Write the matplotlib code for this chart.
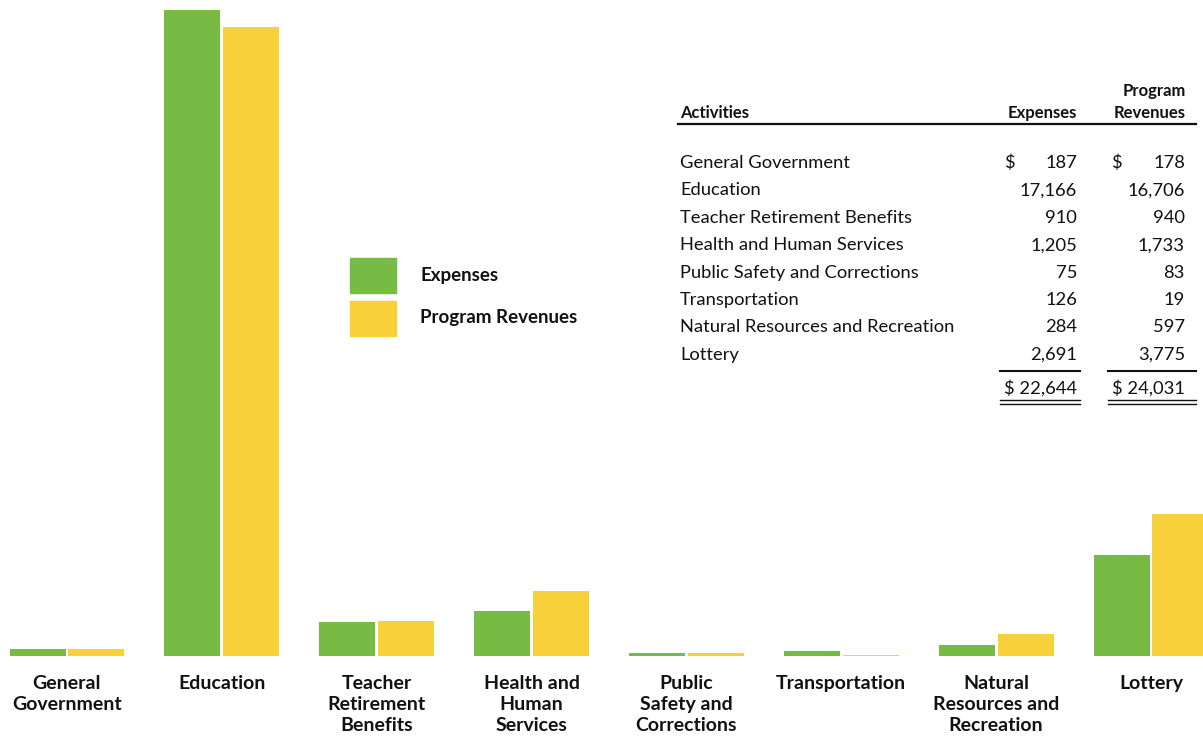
import matplotlib
matplotlib.use('Agg')
import matplotlib.pyplot as plt
from matplotlib.transforms import blended_transform_factory

# Data (millions of dollars)
activities = ['General Government', 'Education', 'Teacher Retirement Benefits',
              'Health and Human Services', 'Public Safety and Corrections',
              'Transportation', 'Natural Resources and Recreation', 'Lottery']
bar_labels = ['General\nGovernment', 'Education', 'Teacher\nRetirement\nBenefits',
              'Health and\nHuman\nServices', 'Public\nSafety and\nCorrections',
              'Transportation', 'Natural\nResources and\nRecreation', 'Lottery']
expenses = [187, 17166, 910, 1205, 75, 126, 284, 2691]
revenues = [178, 16706, 940, 1733, 83, 19, 597, 3775]

green = '#78bb44'
yellow = '#f8d13a'
bold_font = ['Lato', 'DejaVu Sans']
reg_font = ['Lato', 'DejaVu Sans']
ink = '#111111'

W, H = 1203, 736
fig = plt.figure(figsize=(W / 100, H / 100), dpi=100)
ax = fig.add_axes([0, 0, 1, 1])
ax.axis('off')


def fx(px):
    return px / W


def fy(py):
    return 1 - py / H


# bars
w = 0.362
idx = list(range(len(activities)))
ax.bar([i - w / 2 - 0.009 for i in idx], expenses, width=w, color=green)
ax.bar([i + w / 2 + 0.009 for i in idx], revenues, width=w, color=yellow)
scale = 646 / 17166
ax.set_xlim(-67 / 154.86, 7 + 52 / 154.86)
ax.set_ylim(-80 / scale, 656 / scale)

# category labels under bars
trans = blended_transform_factory(ax.transData, fig.transFigure)
for i, lab in enumerate(bar_labels):
    ax.text(i, fy(675), lab, transform=trans, ha='center', va='top',
            fontsize=14, fontweight='bold', family=bold_font, linespacing=1.3,
            color=ink)

# legend
fig.patches.append(plt.Rectangle((fx(350), fy(293)), fx(46), 35 / H, color=green,
                                 transform=fig.transFigure))
fig.patches.append(plt.Rectangle((fx(350), fy(336)), fx(46), 35 / H, color=yellow,
                                 transform=fig.transFigure))
fig.text(fx(420), fy(275), 'Expenses', ha='left', va='center', fontsize=13.5,
         fontweight='bold', family=bold_font, color=ink)
fig.text(fx(420), fy(318), 'Program Revenues', ha='left', va='center', fontsize=13.5,
         fontweight='bold', family=bold_font, color=ink)

# table
fig.text(fx(680), fy(113), 'Activities', ha='left', va='center', fontsize=12,
         fontweight='bold', family=bold_font, color=ink)
fig.text(fx(1077), fy(113), 'Expenses', ha='right', va='center', fontsize=12,
         fontweight='bold', family=bold_font, color=ink)
fig.text(fx(1186), fy(102), 'Program\nRevenues', ha='right', va='center', fontsize=12,
         fontweight='bold', family=bold_font, color=ink, multialignment='right',
         linespacing=1.45)
fig.add_artist(plt.Line2D([fx(678), fx(1196)], [fy(123.5), fy(123.5)], lw=1.6,
                          color=ink, transform=fig.transFigure))

row_y = [163 + 27.4 * k for k in range(len(activities))]
for k, name in enumerate(activities):
    y = fy(row_y[k])
    fig.text(fx(680), y, name, ha='left', va='center', fontsize=13.2,
             family=reg_font, color=ink)
    fig.text(fx(1077), y, f'{expenses[k]:,}', ha='right', va='center', fontsize=13.2,
             family=reg_font, color=ink)
    fig.text(fx(1185), y, f'{revenues[k]:,}', ha='right', va='center', fontsize=13.2,
             family=reg_font, color=ink)
    if k == 0:
        fig.text(fx(1004), y, '$', ha='left', va='center', fontsize=13.2,
                 family=reg_font, color=ink)
        fig.text(fx(1111), y, '$', ha='left', va='center', fontsize=13.2,
                 family=reg_font, color=ink)

# totals
ty = fy(388)
fig.text(fx(1077), ty, f'$ {sum(expenses):,}', ha='right', va='center', fontsize=13.2,
         family=reg_font, color=ink)
fig.text(fx(1185), ty, f'$ {sum(revenues):,}', ha='right', va='center', fontsize=13.2,
         family=reg_font, color=ink)
for x0, x1 in [(1000, 1080), (1108, 1196)]:
    fig.add_artist(plt.Line2D([fx(x0), fx(x1)], [fy(371), fy(371)], lw=1.5,
                              color=ink, transform=fig.transFigure))
    for yy in (400, 403.5):
        fig.add_artist(plt.Line2D([fx(x0), fx(x1)], [fy(yy), fy(yy)], lw=1.0,
                                  color=ink, transform=fig.transFigure))

fig.savefig('out.png', dpi=100)
